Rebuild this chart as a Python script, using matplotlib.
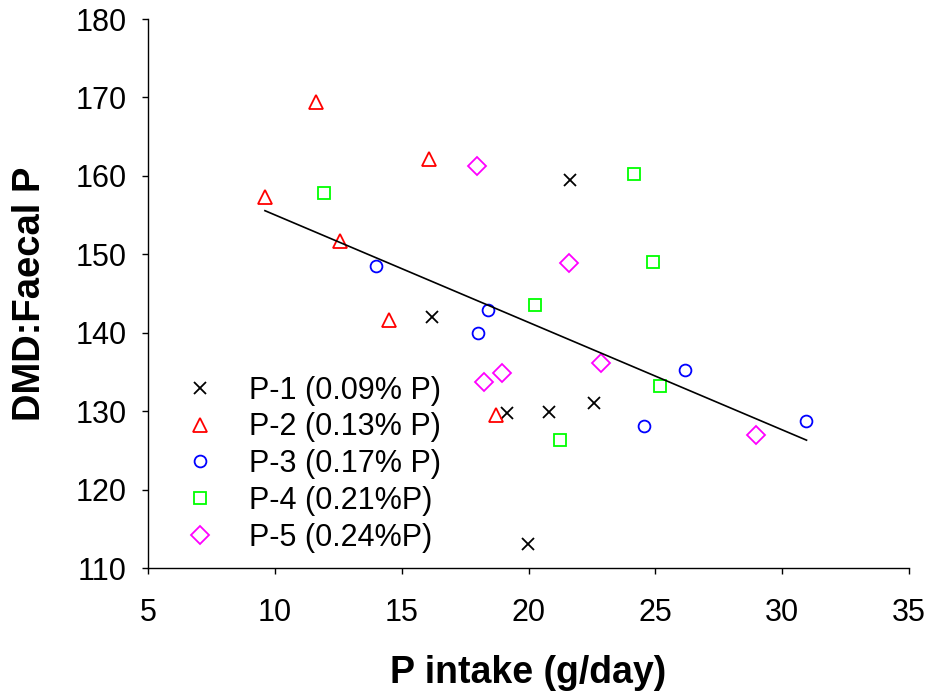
import matplotlib
matplotlib.use("Agg")
import matplotlib.pyplot as plt

plt.rcParams['font.family'] = ['Liberation Sans', 'DejaVu Sans']

# Data
p1_x = [16.19, 21.63, 22.59, 19.17, 20.82, 19.99]
p1_y = [142.0, 159.5, 131.1, 129.8, 129.9, 113.1]
p2_x = [11.62, 16.09, 9.61, 12.57, 14.51, 18.70]
p2_y = [169.4, 162.1, 157.3, 151.7, 141.6, 129.5]
p3_x = [13.99, 18.40, 17.99, 26.18, 24.56, 30.95]
p3_y = [148.5, 142.9, 140.0, 135.3, 128.1, 128.7]
p4_x = [11.95, 20.25, 24.17, 24.92, 25.18, 21.25]
p4_y = [157.8, 143.5, 160.3, 149.0, 133.2, 126.3]
p5_x = [17.96, 21.58, 22.86, 18.94, 18.23, 28.96]
p5_y = [161.3, 148.85, 136.1, 134.8, 133.7, 127.0]

trend_x = [9.61, 30.96]
trend_y = [155.56, 126.3]

labels = ["P-1 (0.09% P)", "P-2 (0.13% P)", "P-3 (0.17% P)", "P-4 (0.21%P)", "P-5 (0.24%P)"]
x_ticks = [5, 10, 15, 20, 25, 30, 35]
y_ticks = [110, 120, 130, 140, 150, 160, 170, 180]

fig = plt.figure(figsize=(9.3, 6.95), dpi=100)
ax = fig.add_axes([148/930, 1-568/695, (909-148)/930, (568-19)/695])

mew = 1.3
ax.plot(p1_x, p1_y, linestyle='none', marker='x', ms=8, mew=mew, color='black', label=labels[0])
ax.plot(p2_x, p2_y, linestyle='none', marker='^', ms=10, mew=mew, mfc='none', mec='#FF0000', label=labels[1])
ax.plot(p3_x, p3_y, linestyle='none', marker='o', ms=8.5, mew=mew, mfc='none', mec='#0000FF', label=labels[2])
ax.plot(p4_x, p4_y, linestyle='none', marker='s', ms=8.5, mew=mew, mfc='none', mec='#00FF00', label=labels[3])
ax.plot(p5_x, p5_y, linestyle='none', marker='D', ms=9, mew=mew, mfc='none', mec='#FF00FF', label=labels[4])
ax.plot(trend_x, trend_y, color='black', lw=1.2)

ax.set_xlim(5, 35)
ax.set_ylim(110, 180)
ax.set_xticks(x_ticks)
ax.set_yticks(y_ticks)
ax.spines['top'].set_visible(False)
ax.spines['right'].set_visible(False)
for s in ['left', 'bottom']:
    ax.spines[s].set_linewidth(1.0)
ax.tick_params(axis='both', direction='out', length=4.5, width=1.0, labelsize=22)
ax.tick_params(axis='x', pad=17)
ax.tick_params(axis='y', pad=11)

ax.set_xlabel("P intake (g/day)", fontsize=27, fontweight='bold')
ax.set_ylabel("DMD:Faecal P", fontsize=27.5, fontweight='bold')
ax.xaxis.set_label_coords(0.5, -0.158)
ax.yaxis.set_label_coords(-0.131, 0.5)

leg = ax.legend(loc='lower left', bbox_to_anchor=(0.028, 0.028), frameon=False,
                fontsize=22, borderpad=0, borderaxespad=0, handlelength=2.0,
                handletextpad=0.62, labelspacing=0.22, numpoints=1)

fig.savefig("out.png", dpi=100)
